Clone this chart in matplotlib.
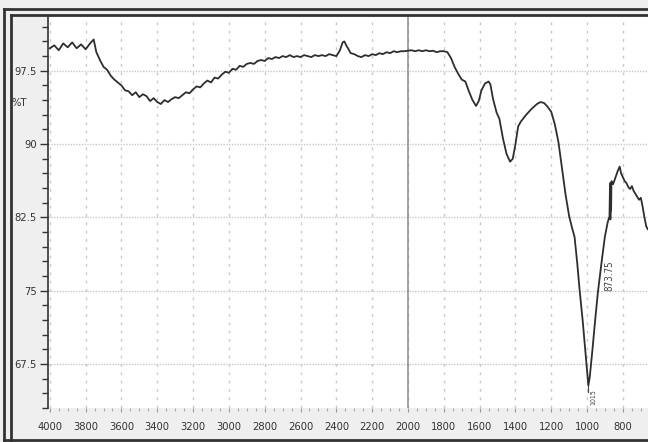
import matplotlib.pyplot as plt
from matplotlib.lines import Line2D
from matplotlib.ticker import MultipleLocator, FixedLocator

# wavenumber (cm-1) and %T
wavenumber = [4000, 3975, 3950, 3925, 3900, 3875, 3850, 3825, 3800, 3775, 3755, 3740,
              3720, 3700, 3680, 3660, 3640, 3620, 3600, 3580, 3560, 3540, 3520, 3500,
              3480, 3460, 3440, 3420, 3400, 3380, 3360, 3340, 3320, 3300, 3280, 3260,
              3240, 3220, 3200, 3180, 3160, 3140, 3120, 3100, 3080, 3060, 3040, 3020,
              3000, 2980, 2960, 2940, 2920, 2900, 2880, 2860, 2840, 2820, 2800, 2780,
              2760, 2740, 2720, 2700, 2680, 2660, 2640, 2620, 2600, 2580, 2560, 2540,
              2520, 2500, 2480, 2460, 2440, 2420, 2400, 2380, 2365, 2355, 2345, 2335,
              2320, 2300, 2280, 2260, 2240, 2220, 2200, 2180, 2160, 2140, 2120, 2100,
              2080, 2060, 2040, 2020, 2000, 1980, 1960, 1940, 1920, 1900, 1880, 1860,
              1840, 1820, 1800, 1780, 1760, 1740, 1720, 1700, 1680, 1660, 1640, 1620,
              1605, 1590, 1570, 1550, 1540, 1525, 1505, 1490, 1470, 1450, 1430, 1415,
              1400, 1385, 1370, 1340, 1310, 1280, 1260, 1240, 1220, 1200, 1180, 1160,
              1140, 1120, 1100, 1085, 1070, 1055, 1042, 1025, 1010, 1000, 993, 985,
              970, 955, 940, 920, 901, 885, 875, 872, 870, 868, 866, 864, 855, 845,
              830, 818, 810, 800, 790, 780, 770, 760, 750, 740, 730, 720, 710, 700,
              690, 680, 670, 662]
transmittance = [99.8, 100.1, 99.6, 100.3, 99.9, 100.4, 99.8, 100.2, 99.7, 100.3, 100.7, 99.4,
                 98.6, 97.9, 97.6, 97.0, 96.6, 96.3, 96.0, 95.5, 95.4, 95.0, 95.3, 94.8,
                 95.1, 94.9, 94.4, 94.7, 94.3, 94.1, 94.5, 94.3, 94.6, 94.8, 94.7, 95.0,
                 95.3, 95.2, 95.6, 95.9, 95.8, 96.2, 96.5, 96.3, 96.8, 96.7, 97.1, 97.4,
                 97.3, 97.7, 97.6, 98.0, 97.9, 98.2, 98.3, 98.2, 98.5, 98.6, 98.5, 98.8,
                 98.7, 98.9, 98.8, 99.0, 98.9, 99.1, 98.9, 99.0, 98.9, 99.1, 99.0, 98.9,
                 99.1, 99.0, 99.1, 99.0, 99.2, 99.1, 99.0, 99.6, 100.4, 100.5, 100.1, 99.8,
                 99.3, 99.2, 99.0, 98.9, 99.1, 99.0, 99.2, 99.1, 99.3, 99.2, 99.4, 99.3,
                 99.5, 99.4, 99.5, 99.5, 99.55, 99.6, 99.5, 99.6, 99.5, 99.6, 99.5, 99.55,
                 99.4, 99.5, 99.5, 99.4, 98.8, 97.9, 97.2, 96.6, 96.4, 95.4, 94.5, 93.9,
                 94.4, 95.5, 96.2, 96.4, 96.1, 94.6, 93.2, 92.6, 90.6, 89.0, 88.2, 88.5,
                 90.0, 91.8, 92.3, 93.0, 93.6, 94.1, 94.3, 94.2, 93.8, 93.3, 92.0, 90.2,
                 87.5, 84.8, 82.6, 81.5, 80.5, 77.8, 75.1, 72.0, 68.8, 66.6, 65.3, 66.2,
                 69.0, 72.0, 74.8, 77.8, 80.5, 82.0, 82.6, 86.0, 82.3, 85.6, 83.2, 86.2,
                 85.9, 86.4, 87.2, 87.7, 87.0, 86.6, 86.2, 86.0, 85.6, 85.4, 85.7, 85.2,
                 84.9, 84.6, 84.3, 84.5, 83.6, 82.5, 81.6, 81.3]

x_ticks = [4000, 3800, 3600, 3400, 3200, 3000, 2800, 2600, 2400, 2200, 2000,
           1800, 1600, 1400, 1200, 1000, 800]
y_ticks = [67.5, 75, 82.5, 90, 97.5]
y_tick_labels = ['67.5', '75', '82.5', '90', '97.5']
peak_labels = [(873.75, '873.75'), (993.0, '1015')]

W, H = 648, 442
fnt = dict(family='DejaVu Sans', stretch='condensed')

fig = plt.figure(figsize=(W / 100, H / 100), dpi=100, facecolor='#efefef')
ax = fig.add_axes([48 / W, 34 / H, (W - 48) / W, (408 - 17) / H])
ax.set_facecolor('white')

ax.plot(wavenumber, transmittance, color='#2e2e2e', lw=1.3, zorder=3)

ax.set_xlim(4010, 660)
ax.set_ylim(63, 103)

ax.xaxis.set_minor_locator(MultipleLocator(50))
ax.set_xticks(x_ticks)
ax.set_xticklabels([str(t) for t in x_ticks], fontsize=8, color='#333333', **fnt)
ax.set_yticks(y_ticks)
ax.set_yticklabels(y_tick_labels, fontsize=8, color='#333333', **fnt)
ax.yaxis.set_minor_locator(MultipleLocator(1.5))

ax.tick_params(axis='y', which='major', length=6, width=1, color='#333333', pad=2)
ax.tick_params(axis='y', which='minor', length=4, width=1, color='#333333')
ax.tick_params(axis='x', which='major', length=3, width=0.8, color='#999999', pad=7)
ax.tick_params(axis='x', which='minor', length=2, width=0.8, color='#aaaaaa')

for side in ['top', 'right', 'bottom']:
    ax.spines[side].set_visible(False)
ax.spines['left'].set_color('#333333')
ax.spines['left'].set_linewidth(1.2)

for y in y_ticks:
    ax.axhline(y, color='#c8c8c8', lw=1, ls=(0, (1, 1)), zorder=1)
for x in x_ticks:
    ax.axvline(x, color='#c8c8c8', lw=1, ls=(0, (2, 4)), zorder=1)
ax.axvline(2000, color='#8a8a8a', lw=1.1, zorder=2)

ax.text(-0.048, 0.78, '%T', transform=ax.transAxes, fontsize=8,
        color='#333333', ha='center', va='center', **fnt)

# peak labels
ax.text(peak_labels[0][0], 76.5, peak_labels[0][1], rotation=90, fontsize=7,
        color='#444444', ha='center', va='center', **fnt)
ax.plot([peak_labels[1][0], peak_labels[1][0]], [65.3, 64.6], color='#444444', lw=0.8)
ax.text(peak_labels[1][0] - 30, 63.3, peak_labels[1][1], rotation=90, fontsize=5,
        color='#444444', ha='center', va='bottom', **fnt)

# instrument frame
def fline(x0, y0, x1, y1, lw, c):
    fig.add_artist(Line2D([x0 / W, x1 / W], [1 - y0 / H, 1 - y1 / H],
                          transform=fig.transFigure, color=c, lw=lw))

fline(4, 9, 4, 442, 2.0, '#333333')
fline(11, 15, 11, 442, 2.0, '#333333')
fline(4, 9, W, 9, 2.0, '#333333')
fline(11, 15, W, 15, 2.0, '#333333')
fline(4, 440, W, 440, 2.0, '#333333')

fig.savefig('out.png', dpi=100, facecolor=fig.get_facecolor())
